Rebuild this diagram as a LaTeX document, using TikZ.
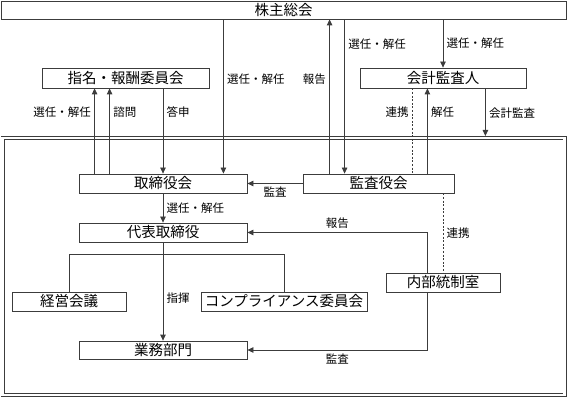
\documentclass[tikz,border=0pt]{standalone}
\usepackage{fontspec}
\usetikzlibrary{arrows.meta,positioning,calc}
\newfontfamily\jpfont{Noto Sans CJK JP}
\definecolor{Ink}{HTML}{3C3C3C}

\begin{document}
\begin{tikzpicture}[x=1pt,y=-1pt,font=\jpfont\fontsize{11.5}{13}\selectfont,>={Triangle[length=6pt,width=5.5pt]},line width=.8pt,color=Ink,text=black,
  unit/.style={draw=Ink,minimum height=19pt,inner sep=0pt,font=\jpfont\fontsize{14.5}{16}\selectfont},
  coop/.style={dash pattern=on 2pt off 1.6pt}]
\useasboundingbox (0,0) rectangle (568,398);
% 外枠
\node[draw=Ink,double,double distance=2.5pt,minimum width=562pt,minimum height=257pt] (frame) at (283.6,266.5) {};
\node[unit,minimum width=565pt,minimum height=18pt] (gm) at (283.5,10) {株主総会};
\node[unit,minimum width=167pt,minimum height=20pt] (nom) at (125.5,78) {指名・報酬委員会};
\node[unit,minimum width=166pt,minimum height=20pt] (auditor) at (443,78) {会計監査人};
\node[unit,minimum width=168pt] (bod) at (163,183.5) {取締役会};
\node[unit,minimum width=151pt] (asb) at (378.5,183.5) {監査役会};
\node[unit,minimum width=168pt] (ceo) at (163,232.5) {代表取締役};
\node[unit,minimum width=114pt] (mtg) at (69,301.5) {経営会議};
\node[unit,minimum width=166pt] (comp) at (284,301.5) {コンプライアンス委員会};
\node[unit,minimum width=114pt] (ica) at (443,282.5) {内部統制室};
\node[unit,minimum width=168pt,minimum height=18pt] (ops) at (163,350) {業務部門};
% 接続点
\coordinate (p1) at ($(bod.north west)+(16,0)$);
\coordinate (p2) at ($(bod.north west)+(31,0)$);
\coordinate (p3) at ($(bod.north east)+(-24,0)$);
\coordinate (p4) at ($(asb.north west)+(27,0)$);
\coordinate (p5) at ($(asb.north west)+(42,0)$);
\coordinate (p6) at ($(asb.north east)+(-42,0)$);
\coordinate (p7) at ($(asb.north east)+(-27,0)$);
\coordinate (p8) at ($(auditor.south east)+(-41,0)$);
\coordinate (p9) at ($(ceo.south)+(0,12)$);
% 株主総会・委員会
\draw[->] (p1) -- (p1 |- nom.south) node[pos=.72,left]{選任・解任};
\draw[->] (p2) -- (p2 |- nom.south) node[pos=.72,right]{諮問};
\draw[->] (nom.south -| bod.north) -- (bod.north) node[pos=.28,right]{答申};
\draw[->] (gm.south -| p3) -- (p3) node[pos=.39,right]{選任・解任};
\draw[->] (p4) -- (p4 |- gm.south) node[pos=.61,left]{報告};
\draw[->] (gm.south -| p5) -- (p5) node[pos=.16,right]{選任・解任};
\draw[->] (gm.south -| auditor.north) -- (auditor.north) node[midway,right]{選任・解任};
% 会計監査人
\draw[coop] (auditor.south -| p6) -- (p6) node[pos=.28,left]{連携};
\draw[->] (p7) -- (p7 |- auditor.south) node[pos=.72,right]{解任};
\draw[->,shorten >=1.6pt] (p8) -- (p8 |- frame.north) node[midway,right]{会計監査};
% 社内
\draw[->] (asb.west) -- (bod.east) node[midway,below]{監査};
\draw[->] (bod.south) -- (ceo.north) node[midway,right]{選任・解任};
\draw[->] (ceo.south) -- (ops.north) node[pos=.57,right]{指揮};
\draw (mtg.north) |- (p9) -| (comp.north);
\draw[->] (ica.north -| p7) |- (ceo.east) node[pos=.75,above]{報告};
\draw[->] (ica.south -| p7) |- (ops.east) node[pos=.75,below]{監査};
\draw[coop] (asb.south -| ica.north) -- (ica.north) node[midway,right]{連携};
\end{tikzpicture}
\end{document}
